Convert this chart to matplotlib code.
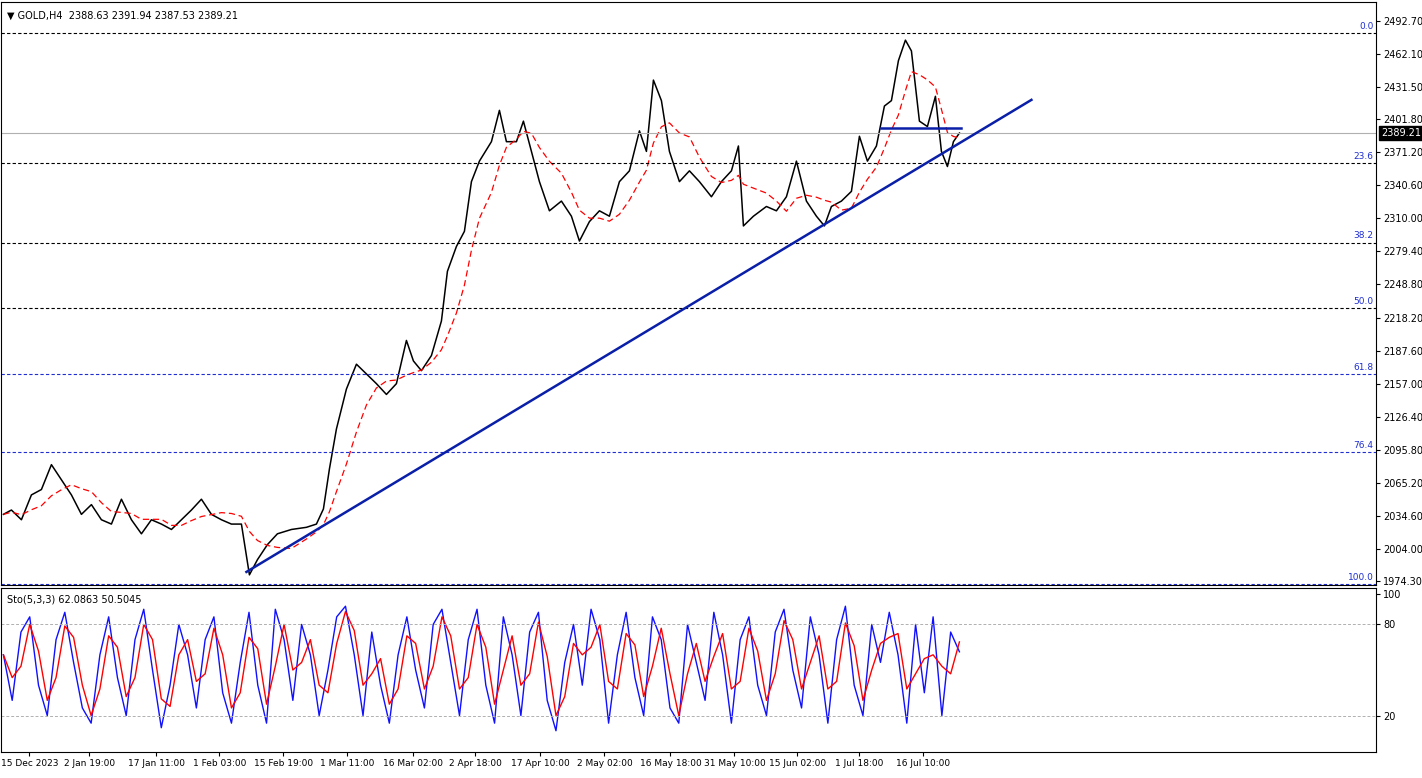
import numpy as np
import pandas as pd
import matplotlib.pyplot as plt

# x positions are chart "slots" (pixel-like bar index units)
px_x = [2, 10, 20, 30, 40, 50, 60, 70, 80, 90, 100, 110, 120, 130, 140, 150, 160, 170, 180, 190,
        200, 210, 220, 230, 240, 248, 256, 266, 276, 290, 305, 315, 322, 328, 335, 345, 355, 365, 375, 385,
        395, 405, 412, 420, 430, 440, 446, 455, 463, 470, 478, 490, 498, 505, 515, 522, 530, 538, 548, 560,
        570, 578, 588, 598, 608, 618, 628, 638, 645, 652, 660, 668, 678, 688, 698, 710, 720, 730, 737, 742,
        752, 765, 775, 785, 795, 805, 815, 823, 830, 840, 850, 858, 866, 875, 883, 890, 897, 904, 910, 918,
        926, 934, 940, 946, 952, 958]
close = [2036, 2040, 2031, 2054, 2059, 2082, 2068, 2054, 2036, 2045, 2031, 2027, 2050, 2031, 2018, 2031,
         2027, 2022, 2031, 2040, 2050, 2036, 2031, 2027, 2027, 1980, 1994, 2008, 2018, 2022, 2024, 2027,
         2041, 2078, 2115, 2152, 2175, 2166, 2157, 2147, 2157, 2197, 2178, 2169, 2183, 2215, 2261, 2284,
         2298, 2344, 2363, 2381, 2410, 2381, 2381, 2400, 2372, 2344, 2317, 2326, 2312, 2289, 2307, 2317,
         2312, 2344, 2354, 2391, 2372, 2438, 2419, 2372, 2344, 2354, 2344, 2330, 2344, 2354, 2377, 2303,
         2312, 2321, 2317, 2330, 2363, 2326, 2312, 2303, 2321, 2326, 2335, 2386, 2363, 2377, 2414, 2419,
         2456, 2475, 2465, 2400, 2395, 2423, 2372, 2358, 2381, 2389]

sto_k = [60, 30, 75, 85, 40, 20, 70, 88, 55, 25, 15, 60, 85, 45, 20, 70, 90, 50, 12, 40,
         80, 60, 25, 70, 85, 35, 15, 55, 88, 40, 15, 90, 70, 30, 80, 60, 20, 50, 85, 92,
         60, 20, 75, 40, 15, 60, 85, 50, 25, 80, 90, 55, 20, 70, 90, 40, 15, 85, 60, 20,
         75, 88, 30, 10, 55, 80, 40, 90, 70, 15, 60, 88, 45, 20, 85, 70, 25, 15, 80, 55,
         30, 88, 60, 15, 70, 85, 40, 20, 75, 90, 50, 25, 85, 60, 15, 70, 92, 40, 20, 80,
         55, 88, 60, 15, 80, 35, 85, 20, 75, 62]
sto_x = np.linspace(2, 958, len(sto_k))
sto_d = pd.Series(sto_k).rolling(2, min_periods=1).mean().tolist()

price_ticks = [2492.70, 2462.10, 2431.50, 2401.80, 2371.20, 2340.60, 2310.00, 2279.40, 2248.80,
               2218.20, 2187.60, 2157.00, 2126.40, 2095.80, 2065.20, 2034.60, 2004.00, 1974.30]
fib_names = ["0.0", "23.6", "38.2", "50.0", "61.8", "76.4", "100.0"]
fib_levels = [2481.6, 2361.5, 2287.6, 2226.6, 2165.6, 2093.5, 1971.6]
date_pos = [28, 88, 155, 218, 282, 346, 412, 474, 539, 603, 669, 733, 796, 858, 922]
date_labels = ["15 Dec 2023", "2 Jan 19:00", "17 Jan 11:00", "1 Feb 03:00", "15 Feb 19:00",
               "1 Mar 11:00", "16 Mar 02:00", "2 Apr 18:00", "17 Apr 10:00", "2 May 02:00",
               "16 May 18:00", "31 May 10:00", "15 Jun 02:00", "1 Jul 18:00", "16 Jul 10:00"]
trend_x = [245, 1030]
trend_y = [1982.7, 2419.7]
last_price = 2389.21

fig = plt.figure(figsize=(14.22, 7.78), dpi=100)
ax = fig.add_axes([0.001, 1 - 585 / 778, 1375 / 1422, 583 / 778])
ax2 = fig.add_axes([0.001, 1 - 752 / 778, 1375 / 1422, 164 / 778])

ma = pd.Series(close).rolling(5, min_periods=1).mean()
ax.plot(px_x, close, color="black", lw=1.1)
ax.plot(px_x, ma, color="red", lw=0.9, ls=(0, (5, 3)))
for name, lv in zip(fib_names, fib_levels):
    c = "black" if name in ("0.0", "23.6", "38.2", "50.0") else "#1f2fd0"
    ax.axhline(lv, color=c, lw=0.8, ls=(0, (3, 2)))
    ax.text(1372, lv + 2, name, color="#1f2fd0", fontsize=6.5, ha="right", va="bottom")
ax.axhline(last_price, color="#b0b0b0", lw=0.8)
ax.plot(trend_x, trend_y, color="#0a1fa8", lw=1.8)
ax.plot([880, 960], [2393.8, 2393.8], color="#0a1fa8", lw=1.8)
ax.set_xlim(0, 1375)
ax.set_ylim(1970.6, 2510.3)
ax.yaxis.tick_right()
ax.set_yticks(price_ticks)
ax.set_yticklabels([f"{t:.2f}" for t in price_ticks], fontsize=7)
ax.set_xticks([])
ax.text(1380, last_price, f"{last_price:.2f}", fontsize=7, color="white", ha="left", va="center",
        clip_on=False, bbox=dict(boxstyle="square,pad=0.2", fc="black", ec="black"))
ax.text(0.004, 0.985, "\u25bc GOLD,H4  2388.63 2391.94 2387.53 2389.21", transform=ax.transAxes,
        fontsize=7, va="top")

ax2.plot(sto_x, sto_k, color="#1010ff", lw=1.0)
ax2.plot(sto_x, sto_d, color="red", lw=1.0)
ax2.axhline(80, color="#b0b0b0", lw=0.7, ls=(0, (3, 2)))
ax2.axhline(20, color="#b0b0b0", lw=0.7, ls=(0, (3, 2)))
ax2.set_xlim(0, 1375)
ax2.set_ylim(-4, 104)
ax2.yaxis.tick_right()
ax2.set_yticks([100, 80, 20])
ax2.set_yticklabels(["100", "80", "20"], fontsize=7)
ax2.set_xticks(date_pos)
ax2.set_xticklabels(date_labels, fontsize=6.5)
ax2.text(0.004, 0.96, "Sto(5,3,3) 62.0863 50.5045", transform=ax2.transAxes, fontsize=7, va="top")
for a in (ax, ax2):
    a.tick_params(length=3, pad=2)
    for s in a.spines.values():
        s.set_linewidth(0.8)

fig.savefig("out.png", dpi=100)
